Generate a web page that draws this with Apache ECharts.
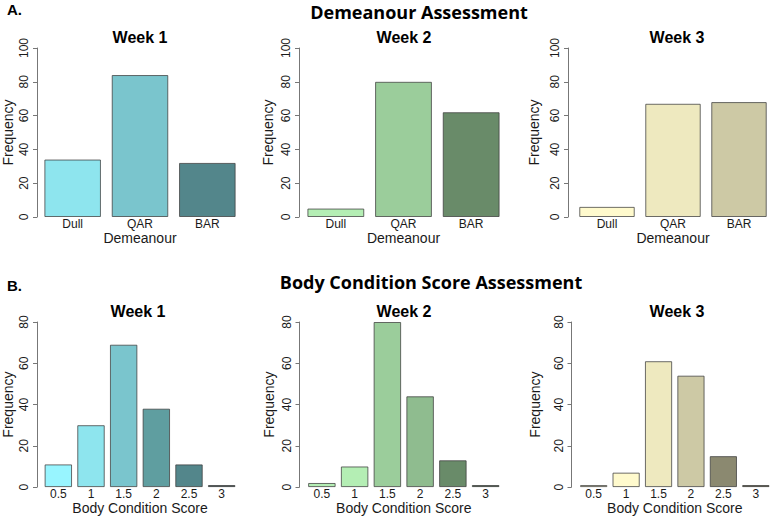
<!DOCTYPE html>
<html><head><meta charset="utf-8">
<script src="https://cdn.jsdelivr.net/npm/echarts@6/dist/echarts.min.js"></script>
<style>html,body{margin:0;padding:0;background:#fff}#c{width:772px;height:516px}</style>
</head><body><div id="c"></div>
<script>
// ---- data ----
const demeanourCategories = ['Dull', 'QAR', 'BAR'];
const bcsCategories = ['0.5', '1', '1.5', '2', '2.5', '3'];
const weekLabels = ['Week 1', 'Week 2', 'Week 3'];
const demeanourWeek1 = [34, 84, 32];
const demeanourWeek2 = [5, 80, 62];
const demeanourWeek3 = [6, 67, 68];
const bcsWeek1 = [11, 30, 69, 38, 11, 1];
const bcsWeek2 = [2, 10, 80, 44, 13, 1];
const bcsWeek3 = [1, 7, 61, 54, 15, 1];
const demeanourMax = 100;
const bcsMax = 80;
const tickStep = 20;
const sectionTitles = ['Demeanour Assessment', 'Body Condition Score Assessment'];
const sectionLetters = ['A.', 'B.'];
const xNames = ['Demeanour', 'Body Condition Score'];
const yName = 'Frequency';

// ---- styles ----
const demeanourColors = [
  ['#8EE5EE', '#7AC5CD', '#53868B'],
  ['#B4EEB4', '#9BCD9B', '#698B69'],
  ['#FFFACD', '#EEE9BF', '#CDC9A5']
];
const bcsColors = [
  ['#98F5FF', '#8EE5EE', '#7AC5CD', '#5F9EA0', '#53868B', '#2F4F4F'],
  ['#B4EEB4', '#B4EEB4', '#9BCD9B', '#8FBC8F', '#698B69', '#3B5E3B'],
  ['#FFFACD', '#FFFACD', '#EEE9BF', '#CDC9A5', '#8B8970', '#5E5B35']
];

const panels = [
  { cats: demeanourCategories, vals: demeanourWeek1, colors: demeanourColors[0], max: demeanourMax, left: 38, width: 203, top: 48, height: 169, off: 2, nameGap: 22, xGap: 8, xName: xNames[0], title: weekLabels[0], tx: 140, ty: 37 },
  { cats: demeanourCategories, vals: demeanourWeek2, colors: demeanourColors[1], max: demeanourMax, left: 302, width: 203, top: 48, height: 169, off: 3, nameGap: 24, xGap: 8, xName: xNames[0], title: weekLabels[1], tx: 404, ty: 37 },
  { cats: demeanourCategories, vals: demeanourWeek3, colors: demeanourColors[2], max: demeanourMax, left: 574, width: 203, top: 48, height: 169, off: 6, nameGap: 27, xGap: 8, xName: xNames[0], title: weekLabels[2], tx: 677, ty: 37 },
  { cats: bcsCategories, vals: bcsWeek1, colors: bcsColors[0], max: bcsMax, left: 41, width: 197, top: 322, height: 168, off: 5, nameGap: 22, xGap: 10, xName: xNames[1], title: weekLabels[0], tx: 138, ty: 311 },
  { cats: bcsCategories, vals: bcsWeek2, colors: bcsColors[1], max: bcsMax, left: 305.5, width: 196.5, top: 322, height: 168, off: 6, nameGap: 24, xGap: 10, xName: xNames[1], title: weekLabels[1], tx: 404, ty: 311 },
  { cats: bcsCategories, vals: bcsWeek3, colors: bcsColors[2], max: bcsMax, left: 577.5, width: 197, top: 322, height: 168, off: 6, nameGap: 30, xGap: 10, xName: xNames[1], title: weekLabels[2], tx: 677, ty: 311 }
];

const FONT = '"Liberation Sans", Arial, sans-serif';
const TFONT = '"Open Sans", "Noto Sans", sans-serif';
const axisGray = '#777';
const textCol = '#1a1a1a';

const grid = [], xAxis = [], yAxis = [], series = [], graphic = [];
panels.forEach((p, i) => {
  grid.push({ left: p.left, width: p.width, top: p.top, height: p.height, containLabel: false });
  xAxis.push({
    gridIndex: i, type: 'category', data: p.cats,
    axisLine: { show: false }, axisTick: { show: false },
    axisLabel: { margin: 1, fontSize: 12, color: textCol, fontFamily: FONT },
    name: p.xName, nameLocation: 'middle', nameGap: p.xGap,
    nameTextStyle: { fontSize: 14, color: textCol, fontFamily: FONT }
  });
  yAxis.push({
    gridIndex: i, type: 'value', min: 0, max: p.max, interval: tickStep, offset: p.off,
    axisLine: { show: true, lineStyle: { color: axisGray, width: 1 } },
    axisTick: { show: true, length: 4, lineStyle: { color: axisGray } },
    axisLabel: { rotate: 90, margin: 7, fontSize: 12, color: textCol, fontFamily: FONT },
    splitLine: { show: false },
    name: yName, nameLocation: 'middle', nameGap: p.nameGap,
    nameTextStyle: { fontSize: 14, color: textCol, fontFamily: FONT }
  });
  series.push({
    type: 'bar', xAxisIndex: i, yAxisIndex: i, barCategoryGap: '16%',
    data: p.vals.map((v, j) => ({ value: v, itemStyle: { color: p.colors[j] } })),
    itemStyle: { borderColor: 'rgba(60,60,60,0.75)', borderWidth: 1 },
    emphasis: { disabled: true }, silent: true
  });
  graphic.push({
    type: 'text', x: p.tx, y: p.ty,
    style: { text: p.title, fontSize: 16, fontWeight: 'bold', fontFamily: FONT, fill: '#000', textAlign: 'center', textVerticalAlign: 'middle' }
  });
});
graphic.push(
  { type: 'text', x: 419, y: 12, style: { text: sectionTitles[0], fontSize: 18, fontWeight: 'bold', fontFamily: TFONT, fill: '#000', textAlign: 'center', textVerticalAlign: 'middle' } },
  { type: 'text', x: 431, y: 282, style: { text: sectionTitles[1], fontSize: 18, fontWeight: 'bold', fontFamily: TFONT, fill: '#000', textAlign: 'center', textVerticalAlign: 'middle' } },
  { type: 'text', x: 7, y: 9, style: { text: sectionLetters[0], fontSize: 15, fontWeight: 'bold', fontFamily: FONT, fill: '#000', textAlign: 'left', textVerticalAlign: 'middle' } },
  { type: 'text', x: 7, y: 285, style: { text: sectionLetters[1], fontSize: 15, fontWeight: 'bold', fontFamily: FONT, fill: '#000', textAlign: 'left', textVerticalAlign: 'middle' } }
);

const chart = echarts.init(document.getElementById('c'), null, { renderer: 'svg', width: 772, height: 516 });
chart.setOption({ animation: false, backgroundColor: '#fff', grid, xAxis, yAxis, series, graphic });
</script>
</body></html>
